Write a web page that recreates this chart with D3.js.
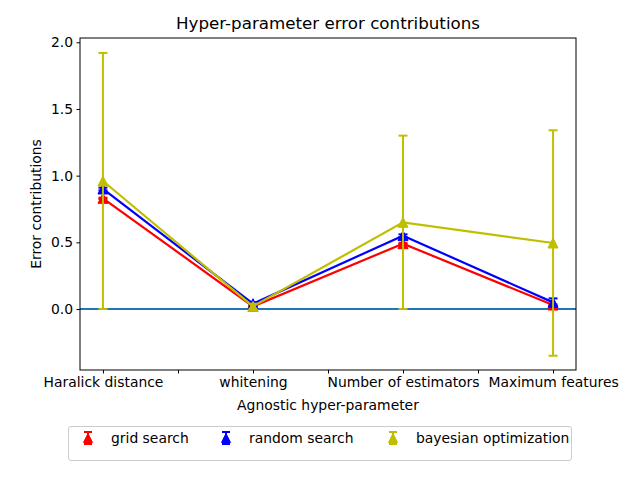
<!DOCTYPE html>
<html><head><meta charset="utf-8">
<script src="https://cdn.jsdelivr.net/npm/d3@7"></script>
<style>body{margin:0;background:#fff}svg{display:block}text{font-family:"DejaVu Sans",sans-serif}</style>
</head><body><svg id="c" width="640" height="479"></svg>
<script>
const categories = ["Haralick distance", "whitening", "Number of estimators", "Maximum features"];
const seriesNames = ["grid search", "random search", "bayesian optimization"];
const seriesColors = ["#ff0000", "#0000ff", "#bfbf00"];
const gridValues = [0.83, 0.02, 0.49, 0.03];
const gridErrors = [0.005, 0.005, 0.005, 0.005];
const randomValues = [0.90, 0.04, 0.55, 0.05];
const randomErrors = [0.01, 0.01, 0.01, 0.03];
const bayesValues = [0.96, 0.02, 0.65, 0.495];
const bayesErrors = [0.96, 0.02, 0.65, 0.845];
const yTicks = [0.0, 0.5, 1.0, 1.5, 2.0];
const xTicks = [0, 0.5, 1, 1.5, 2, 2.5, 3];

const series = [
  {name: seriesNames[0], color: seriesColors[0], values: gridValues, errors: gridErrors},
  {name: seriesNames[1], color: seriesColors[1], values: randomValues, errors: randomErrors},
  {name: seriesNames[2], color: seriesColors[2], values: bayesValues, errors: bayesErrors}
];

const svg = d3.select("#c");
const L = 80, R = 576, T = 38, B = 370;
const FS = 13.9;
const x = d3.scaleLinear().domain([-0.153, 3.153]).range([L, R]);
const y = d3.scaleLinear().domain([-0.457, 2.032]).range([B, T]);

// zero line
svg.append("line").attr("x1", L).attr("x2", R).attr("y1", y(0)).attr("y2", y(0))
  .attr("stroke", "#1f77b4").attr("stroke-width", 2);

const tri = s => `M0,${-s}L${s},${s}L${-s},${s}Z`;

series.forEach(sr => {
  const g = svg.append("g");
  const line = d3.line().x((d, i) => x(i)).y(d => y(d));
  g.append("path").attr("d", line(sr.values)).attr("fill", "none")
    .attr("stroke", sr.color).attr("stroke-width", 2.2).attr("stroke-linejoin", "miter");
  sr.values.forEach((v, i) => {
    const e = sr.errors[i];
    const cx = x(i);
    g.append("line").attr("x1", cx).attr("x2", cx).attr("y1", y(v - e)).attr("y2", y(v + e))
      .attr("stroke", sr.color).attr("stroke-width", 2);
    [v - e, v + e].forEach(c => {
      g.append("line").attr("x1", cx - 4.5).attr("x2", cx + 4.5).attr("y1", y(c)).attr("y2", y(c))
        .attr("stroke", sr.color).attr("stroke-width", 2);
    });
    g.append("path").attr("d", tri(5)).attr("transform", `translate(${cx},${y(v)})`)
      .attr("fill", sr.color).attr("stroke", sr.color).attr("stroke-width", 1);
  });
});

// axes
const yAxis = d3.axisLeft(y).tickValues(yTicks).tickFormat(d3.format(".1f")).tickSize(3.5).tickPadding(3.5);
const gy = svg.append("g").attr("transform", `translate(${L},0)`).call(yAxis);
const xAxis = d3.axisBottom(x).tickValues(xTicks)
  .tickFormat(d => Number.isInteger(d) ? categories[d] : "").tickSize(3.5).tickPadding(3.5);
const gx = svg.append("g").attr("transform", `translate(0,${B})`).call(xAxis);
[gx, gy].forEach(g => {
  g.select(".domain").remove();
  g.selectAll("line").attr("stroke", "#000").attr("stroke-width", 1);
  g.selectAll("text").attr("font-size", FS).attr("fill", "#000").attr("font-family", "DejaVu Sans");
});
svg.append("rect").attr("x", L).attr("y", T).attr("width", R - L).attr("height", B - T)
  .attr("fill", "none").attr("stroke", "#000").attr("stroke-width", 1);

svg.append("text").attr("x", (L + R) / 2).attr("y", 29).attr("text-anchor", "middle")
  .attr("font-size", 16.7).text("Hyper-parameter error contributions");
svg.append("text").attr("x", (L + R) / 2).attr("y", 410).attr("text-anchor", "middle")
  .attr("font-size", FS).text("Agnostic hyper-parameter");
svg.append("text").attr("transform", `translate(41,${(T + B) / 2}) rotate(-90)`).attr("text-anchor", "middle")
  .attr("font-size", FS).text("Error contributions");

// legend
const lg = svg.append("g");
lg.append("rect").attr("x", 68.5).attr("y", 426.5).attr("width", 503).attr("height", 34).attr("rx", 2.5)
  .attr("fill", "#fff").attr("stroke", "#cccccc").attr("stroke-width", 1);
const legX = [88, 226, 393];
series.forEach((sr, i) => {
  const cx = legX[i], cy = 438;
  lg.append("line").attr("x1", cx).attr("x2", cx).attr("y1", cy - 6).attr("y2", cy + 6)
    .attr("stroke", sr.color).attr("stroke-width", 2);
  [cy - 6, cy + 6].forEach(c => lg.append("line").attr("x1", cx - 4).attr("x2", cx + 4)
    .attr("y1", c).attr("y2", c).attr("stroke", sr.color).attr("stroke-width", 2));
  lg.append("path").attr("d", tri(4.5)).attr("transform", `translate(${cx},${cy})`)
    .attr("fill", sr.color).attr("stroke", sr.color);
  lg.append("text").attr("x", cx + 23).attr("y", cy + 5).attr("font-size", FS).text(sr.name);
});
</script></body></html>
